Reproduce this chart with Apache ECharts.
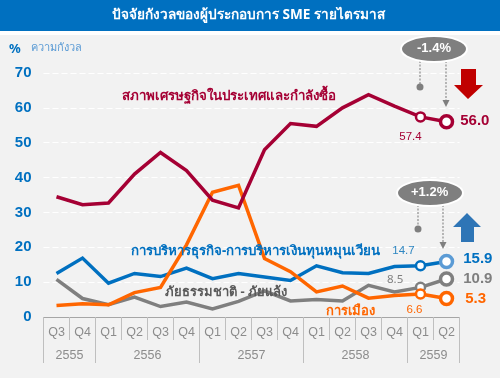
<!DOCTYPE html>
<html><head><meta charset="utf-8">
<style>html,body{margin:0;padding:0;background:#fff}#c{width:500px;height:378px}</style>
<script src="https://cdn.jsdelivr.net/npm/echarts@6/dist/echarts.min.js"></script>
</head><body><div id="c"></div>
<script>
var quarters=['Q3','Q4','Q1','Q2','Q3','Q4','Q1','Q2','Q3','Q4','Q1','Q2','Q3','Q4','Q1','Q2'];
var yearLabels={1:'2555',4:'2556',8:'2557',12:'2558',15:'2559'};
var yearBounds=[0,2,6,10,14,16];
var economy=[34.5,32.2,32.7,41,47.2,42,33.5,31.3,48,55.5,54.7,60,63.8,60.5,57.4,56.0];
var management=[12.5,16.9,9.7,12.5,11.6,14,11,12.5,11.5,10.5,14.7,12.7,12.5,14.5,14.7,15.9];
var disaster=[10.8,5.3,3.5,5.7,3,4.3,2.3,4.5,7.5,4.6,5,4.6,9.1,7.2,8.5,10.9];
var politics=[3.3,3.8,3.5,7,8.5,20.7,35.8,37.8,16.8,13,7.2,8.9,5.4,6.2,6.6,5.3];
var FONT='"Liberation Sans","Noto Sans",sans-serif';
function pts(vals,color,endColor,prevLabel,prevPos,prevCol,endLabelColor,endOffset){
  return vals.map(function(v,i){
    if(i<vals.length-2) return {value:v,symbol:'none'};
    var last=i===vals.length-1;
    return {value:v,symbol:'circle',symbolSize:last?12:9,
      itemStyle:{color:'#fff',borderColor:last?endColor:color,borderWidth:last?3.5:2.5},
      label:last?{show:true,position:'right',distance:9,offset:endOffset||[0,0],formatter:v.toFixed(1),color:endLabelColor,fontSize:15,fontWeight:'bold',fontFamily:FONT}
        :{show:!!prevLabel,position:prevPos,offset:prevLabel,formatter:v.toFixed(1),color:prevCol,fontSize:11.5,fontFamily:FONT}};
  });
}
function line(name,vals,color,endColor,prevOffset,prevPos,prevCol,endLabelColor,z,endOffset){
  return {name:name,type:'line',data:pts(vals,color,endColor,prevOffset,prevPos,prevCol,endLabelColor,endOffset),
    xAxisIndex:0,yAxisIndex:0,z:z,lineStyle:{color:color,width:3.5,join:'miter'},itemStyle:{color:color},showSymbol:true,animation:false,clip:false};
}
function note(text,x,y,color,size,w){return {type:'text',left:x,top:y,z:20,style:{text:text,fill:color,font:(w||'bold')+' '+size+'px "Noto Sans",'+FONT}};}
var leader=function(x,y1,y2,arrow){
  var out=[{type:'line',z:6,shape:{x1:x,y1:y1,x2:x,y2:y2},style:{stroke:'#8c8c8c',lineWidth:1.2,lineDash:[2,1.5]}}];
  out.push(arrow?{type:'polygon',z:6,shape:{points:[[x-3.5,y2-1],[x+3.5,y2-1],[x,y2+6]]},style:{fill:'#7f7f7f'}}
    :{type:'circle',z:6,shape:{cx:x,cy:y2,r:3.5},style:{fill:'#7f7f7f'}});
  return out;
};
var g=[
 {type:'rect',z:-10,shape:{x:0,y:35,width:500,height:343},style:{fill:'#f2f2f2'}},
 {type:'rect',z:-9,shape:{x:0,y:0,width:500,height:31},style:{fill:'#0070c0'}},
 {type:'text',z:20,left:112,top:8,style:{text:'ปัจจัยกังวลของผู้ประกอบการ SME รายไตรมาส',fill:'#fff',font:'bold 13.6px "Noto Sans",'+FONT}},
 note('%',9,43,'#0070c0',13),
 note('ความกังวล',31,42,'#5b9bd5',11,'normal'),
 note('สภาพเศรษฐกิจในประเทศและกำลังซื้อ',122,90,'#a50034',13.3),
 note('การบริหารธุรกิจ-การบริหารเงินทุนหมุนเวียน',131,245,'#0070c0',13.3),
 note('ภัยธรรมชาติ - ภัยแล้ง',165,286,'#595959',13),
 note('การเมือง',326,305,'#ff6600',13),
 note('8.5',387,274,'#7f7f7f',11.5,'normal'),
 {type:'ellipse',z:7,shape:{cx:434,cy:49,rx:33,ry:13},style:{fill:'#7f7f7f',stroke:'#fff',lineWidth:2}},
 {type:'text',z:8,left:417,top:42,style:{text:'-1.4%',fill:'#fff',font:'bold 13px '+FONT}},
 {type:'ellipse',z:7,shape:{cx:430,cy:193,rx:33,ry:13},style:{fill:'#7f7f7f',stroke:'#fff',lineWidth:2}},
 {type:'text',z:8,left:411,top:186,style:{text:'+1.2%',fill:'#fff',font:'bold 13px '+FONT}},
 {type:'polygon',z:6,shape:{points:[[461,69],[476,69],[476,85],[483,85],[468,99],[454,85],[461,85]]},style:{fill:'#c00000'}},
 {type:'polygon',z:6,shape:{points:[[461,242],[474,242],[474,227],[481,227],[467,213],[453,227],[461,227]]},style:{fill:'#2e75b6'}}
].concat(leader(420,61,87,false),leader(446,61,101,true),leader(418,205,229,false),leader(443,205,243,true));
var chart=echarts.init(document.getElementById('c'),null,{renderer:'canvas'});
chart.setOption({
  animation:false,backgroundColor:'transparent',
  grid:{left:43.5,right:40.5,top:73,bottom:61},
  xAxis:[
    {type:'category',data:quarters,boundaryGap:true,position:'bottom',
     axisLine:{show:true,lineStyle:{color:'#a6a6a6',width:1}},
     axisTick:{show:true,length:23,lineStyle:{color:'#bfbfbf'}},
     axisLabel:{interval:0,color:'#8c8c8c',fontSize:12.5,margin:9,fontFamily:FONT},splitLine:{show:false}},
    {type:'value',min:0,max:16,position:'bottom',
     axisLine:{show:false},
     axisTick:{show:true,length:46,customValues:yearBounds,lineStyle:{color:'#bfbfbf'}},
     axisLabel:{show:true,customValues:Object.keys(yearLabels).map(Number),margin:32,color:'#8c8c8c',fontSize:12.5,fontFamily:FONT,
       formatter:function(v){return yearLabels[v]||'';}},splitLine:{show:false}}
  ],
  yAxis:{type:'value',min:0,max:70,interval:10,
    axisLine:{show:false},axisTick:{show:false},
    axisLabel:{color:'#0070c0',fontSize:15,fontWeight:'bold',margin:12,fontFamily:FONT},
    splitLine:{show:true,lineStyle:{color:'#fff',type:[6,3],width:1.2}}},
  series:[
    line('ภัยธรรมชาติ - ภัยแล้ง',disaster,'#7f7f7f','#7f7f7f',null,'top','#7f7f7f','#7f7f7f',2,[0,0]),
    line('การบริหารธุรกิจ',management,'#0070c0','#5b9bd5',[-17,2],'top','#2e86c1','#0070c0',3,[0,-3]),
    line('การเมือง',politics,'#ff6600','#ff6600',[-6,-1],'bottom','#ff6600','#ff6600',4,[2,0]),
    line('สภาพเศรษฐกิจ',economy,'#a50034','#a50034',[-10,3],'bottom','#a50034','#a50034',5,[-3,-1])
  ],
  graphic:g
});
</script></body></html>
